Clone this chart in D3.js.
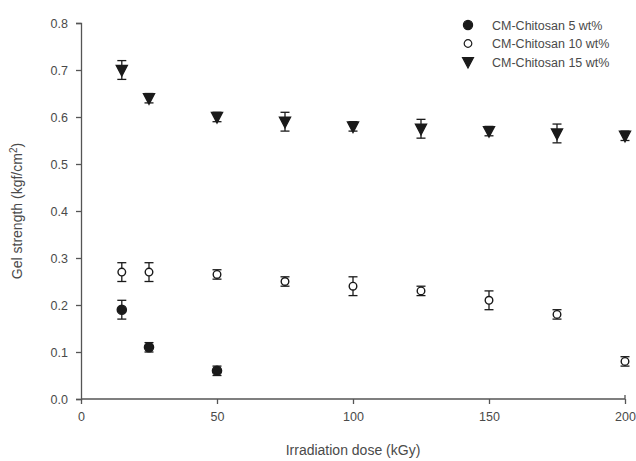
<!DOCTYPE html>
<html><head><meta charset="utf-8">
<script src="https://cdn.jsdelivr.net/npm/d3@7"></script>
<style>body{margin:0;background:#fff}svg{display:block;font-family:Arial,"Liberation Sans",sans-serif}</style>
</head><body><svg id="c" width="636" height="461"></svg>
<script>
const doses15 = [15,25,50,75,100,125,150,175,200];
const vals15 = [0.70,0.64,0.60,0.59,0.58,0.575,0.57,0.565,0.56];
const err15 = [0.02,0.01,0.01,0.02,0.01,0.02,0.01,0.02,0.01];
const doses10 = [15,25,50,75,100,125,150,175,200];
const vals10 = [0.27,0.27,0.265,0.25,0.24,0.23,0.21,0.18,0.08];
const err10 = [0.02,0.02,0.01,0.01,0.02,0.01,0.02,0.01,0.01];
const doses5 = [15,25,50];
const vals5 = [0.19,0.11,0.06];
const err5 = [0.02,0.01,0.01];
const xTicks = [0,50,100,150,200];
const yTicks = [0,0.1,0.2,0.3,0.4,0.5,0.6,0.7,0.8];
const seriesNames = ["CM-Chitosan 5 wt%","CM-Chitosan 10 wt%","CM-Chitosan 15 wt%"];

const svg = d3.select("#c");
const x = d3.scaleLinear().domain([0,200]).range([81,625]);
const y = d3.scaleLinear().domain([0,0.8]).range([399,23]);
const ink = "#1a1a1a", txt = "#4a4a4a";

const xa = svg.append("g").attr("transform","translate(0,399)")
  .call(d3.axisBottom(x).tickValues(xTicks).tickSize(5).tickPadding(8).tickFormat(d3.format("d")));
const ya = svg.append("g").attr("transform","translate(81,0)")
  .call(d3.axisLeft(y).tickValues(yTicks).tickSize(5).tickPadding(8).tickFormat(d3.format(".1f")));
[xa,ya].forEach(a=>{
  a.selectAll("path").attr("stroke","#555").attr("stroke-width",1.3);
  a.selectAll("line").attr("stroke","#555").attr("stroke-width",1.3);
  a.selectAll("text").attr("fill",txt).attr("font-size",12.5);
});
xa.select(".domain").attr("d","M81,0H625V-4");

svg.append("text").attr("x",353).attr("y",455).attr("text-anchor","middle")
  .attr("fill",txt).attr("font-size",14).text("Irradiation dose (kGy)");
const yt = svg.append("text").attr("transform","translate(22,211) rotate(-90)")
  .attr("text-anchor","middle").attr("fill",txt).attr("font-size",14);
yt.append("tspan").text("Gel strength (kgf/cm");
yt.append("tspan").attr("dy",-5).attr("font-size",10).text("2");
yt.append("tspan").attr("dy",5).text(")");

function markerPath(kind){
  if(kind==="tri") return "M-5.5,-4.5L5.5,-4.5L0,6Z";
  return d3.arc()({innerRadius:0,outerRadius:kind==="open"?3.8:4.6,startAngle:0,endAngle:2*Math.PI});
}
function series(doses, vals, errs, kind){
  const g = svg.append("g");
  const data = doses.map((d,i)=>({d,v:vals[i],e:errs[i]}));
  const eb = g.selectAll(".e").data(data).enter().append("g").attr("stroke",ink).attr("stroke-width",1.3);
  eb.append("line").attr("x1",d=>x(d.d)).attr("x2",d=>x(d.d)).attr("y1",d=>y(d.v+d.e)).attr("y2",d=>y(d.v-d.e));
  eb.append("line").attr("x1",d=>x(d.d)-4.5).attr("x2",d=>x(d.d)+4.5).attr("y1",d=>y(d.v+d.e)).attr("y2",d=>y(d.v+d.e));
  eb.append("line").attr("x1",d=>x(d.d)-4.5).attr("x2",d=>x(d.d)+4.5).attr("y1",d=>y(d.v-d.e)).attr("y2",d=>y(d.v-d.e));
  g.selectAll(".m").data(data).enter().append("path")
    .attr("transform",d=>`translate(${x(d.d)},${y(d.v)})`)
    .attr("d",markerPath(kind))
    .attr("fill",kind==="open"?"#fff":ink).attr("stroke",ink).attr("stroke-width",1.4);
}
series(doses5,vals5,err5,"filled");
series(doses10,vals10,err10,"open");
series(doses15,vals15,err15,"tri");

const kinds = ["filled","open","tri"];
const lg = svg.append("g");
seriesNames.forEach((n,i)=>{
  const yy = 25 + i*18.5;
  lg.append("path").attr("transform",`translate(468,${yy})`).attr("d",markerPath(kinds[i]))
    .attr("fill",kinds[i]==="open"?"#fff":ink).attr("stroke",ink).attr("stroke-width",1.2);
  lg.append("text").attr("x",492).attr("y",yy+4.5).attr("fill",txt).attr("font-size",12.5).text(n);
});
</script></body></html>
